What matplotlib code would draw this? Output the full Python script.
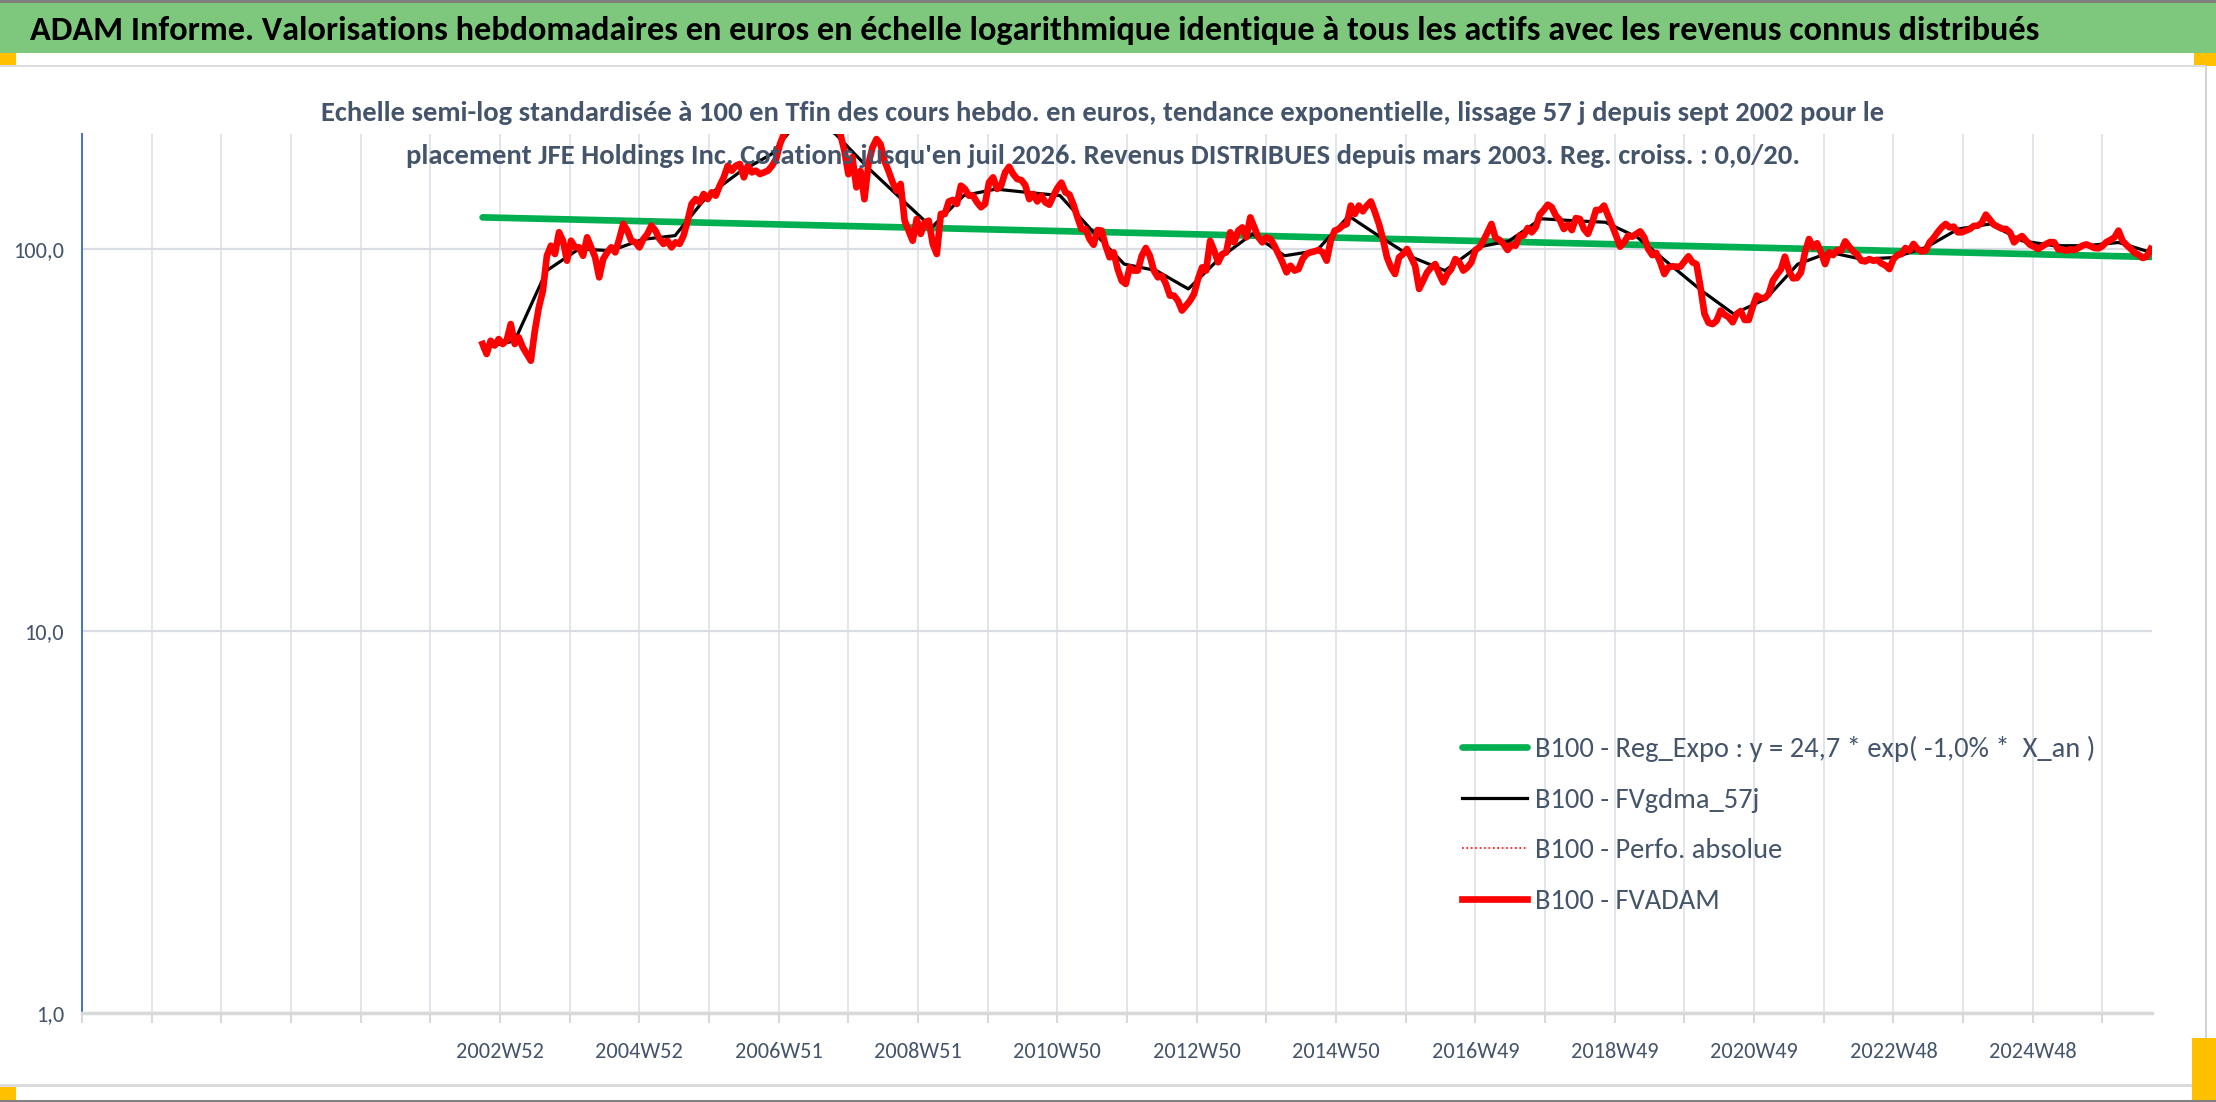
import numpy as np
import matplotlib
matplotlib.use("Agg")
import matplotlib.pyplot as plt
from matplotlib import font_manager
from matplotlib.patches import Rectangle
from matplotlib.ticker import NullLocator

# weekly categories, index 0 = first category of the axis
week_first = 299
week_last = 1544
axis_last = 1545

# B100 - FVADAM, one value every 3 weeks
fvadam = [
    56.4, 53.1, 57.5, 55.9, 58.1, 56.4, 57.7, 63.6, 56.4, 58.7,
    55.3, 53.1, 51.0, 61.1, 70.4, 77.8, 96.0, 102.0, 97.0, 110.6,
    105.1, 93.2, 105.1, 101.0, 101.0, 96.0, 107.3, 101.0, 95.1, 84.3,
    94.1, 98.0, 101.0, 98.0, 106.2, 116.3, 111.7, 105.1, 104.1, 101.0,
    106.2, 109.5, 115.1, 111.7, 106.2, 103.1, 105.1, 101.0, 104.1, 103.1,
    108.4, 118.6, 131.2, 135.1, 132.5, 139.3, 135.1, 140.7, 137.9, 146.5,
    154.0, 165.2, 160.3, 165.2, 166.9, 154.0, 165.2, 158.7, 160.3, 157.1,
    158.7, 160.3, 165.2, 172.0, 188.3, 200.0, 212.0, 222.0, 230.0, 238.0,
    242.0, 245.0, 240.0, 235.0, 238.0, 230.0, 225.0, 218.0, 210.0, 200.0,
    181.0, 157.0, 174.0, 145.0, 160.0, 135.0, 167.0, 184.5, 194.0, 188.0,
    170.0, 160.0, 149.5, 142.0,
    148.0, 118.6, 111.7, 105.1, 119.8, 109.5, 117.4, 118.6, 103.1, 97.0,
    123.5, 123.5, 133.2, 134.4, 131.2, 146.5, 143.6, 137.9, 137.9, 132.5,
    128.6, 131.2, 149.5, 154.0, 143.6, 146.5, 158.7, 164.2, 157.1, 152.5,
    151.5, 147.0, 135.1, 139.3, 133.2, 137.9, 132.5, 130.6, 137.9, 144.4,
    149.2, 140.7, 138.8, 130.6, 121.0, 112.8, 112.8, 106.2, 102.6, 112.1,
    111.7, 102.0, 95.1, 98.0, 88.6, 82.6, 81.0, 89.5, 87.8, 87.8,
    96.0, 100.6, 96.0, 87.8, 84.3, 85.1, 81.0, 75.5, 75.5, 73.2,
    69.0, 71.1, 73.2, 76.3, 83.5, 89.5, 87.8, 105.1, 99.0, 92.3,
    97.0, 98.0, 110.6, 104.1, 111.7, 113.9, 107.3, 121.0, 113.9, 107.3,
    104.1, 107.3, 106.2, 102.0, 97.0, 92.3, 86.9, 90.4, 87.8, 88.6,
    94.1, 97.0, 98.0, 98.6, 99.4,
    98.0, 93.2, 105.1, 111.7, 112.8, 115.1, 116.3, 129.9, 123.5, 129.9,
    125.5, 129.9, 133.2, 124.8, 116.3, 106.2, 95.1, 89.5, 86.0, 95.1,
    97.0, 100.0, 95.1, 90.4, 78.6, 82.6, 86.9, 89.5, 91.3, 86.0,
    81.8, 86.0, 88.6, 94.1, 92.3, 87.8, 89.5, 92.3, 99.4, 101.0,
    105.1, 110.6, 116.3, 106.9, 105.6, 103.1, 99.4, 102.6, 102.0, 108.4,
    108.4, 113.5, 110.6, 113.9, 123.0, 126.5, 130.6, 128.6, 122.3, 119.1,
    112.8, 115.8, 112.1, 120.5, 119.8, 112.8, 109.5, 116.7, 126.5, 126.5,
    129.9, 122.3, 115.1, 108.4, 101.4, 104.1, 108.4, 107.7, 109.5, 111.2,
    107.3, 100.0, 96.4, 97.6, 92.3, 86.0, 89.5, 90.1, 89.9, 89.9,
    92.8, 95.7, 92.3, 91.3, 79.4, 67.6, 64.1, 63.6, 64.9, 69.0,
    67.3, 66.3, 64.3, 67.6,
    68.8, 65.2, 65.2, 70.6, 75.5, 74.4, 74.4, 76.3, 82.6, 85.7,
    88.4, 95.5, 87.8, 83.8, 84.0, 86.9, 98.0, 106.2, 101.0, 103.5,
    98.0, 91.3, 98.0, 96.4, 99.4, 99.0, 104.7, 101.4, 98.6, 96.6,
    93.2, 92.8, 94.1, 93.2, 93.6, 91.7, 90.6, 88.6, 94.1, 96.4,
    97.0, 100.6, 99.0, 103.1, 100.0, 98.6, 99.0, 104.1, 106.9, 110.6,
    113.9, 116.3, 113.9, 114.4, 110.6, 110.6, 111.7, 112.8, 114.9, 115.1,
    117.2, 123.0, 119.4, 115.8, 114.4, 113.0, 112.8, 110.6, 104.1, 106.6,
    108.1, 105.1, 102.6, 101.4, 100.0, 101.6, 103.1, 104.3, 104.1, 99.8,
    99.8, 99.0, 99.8, 99.4, 100.6, 102.0, 102.8, 101.8, 100.6, 100.4,
    101.8, 104.3, 105.6, 107.3, 111.7, 105.1, 102.4, 100.2, 97.8, 96.6,
    94.7, 95.5, 100.0,
]

# B100 - FVgdma_57j, one value every ~24 weeks
fvgdma = [
    55.0, 57.5, 87.8, 100.0, 99.0, 106.0, 108.4, 137.5, 158.7, 177.0,
    225.0, 200.0, 163.6, 136.5, 113.9, 138.0, 143.5, 140.6, 138.0, 111.7,
    91.3, 87.8, 78.6, 95.0, 109.5, 96.0, 99.0, 122.0, 107.3, 95.0,
    87.8, 101.0, 105.0, 120.0, 118.6, 117.5, 107.3, 91.3, 77.8, 67.6,
    74.0, 91.3, 98.0, 94.0, 95.0, 101.0, 112.8, 116.3, 105.0, 102.0,
    102.0, 104.0, 98.0,
]

# B100 - Reg_Expo, start and end
reg_expo = [121.0, 95.3]

x_labels = ['2002W52', '2004W52', '2006W51', '2008W51', '2010W50', '2012W50',
            '2014W50', '2016W49', '2018W49', '2020W49', '2022W48', '2024W48']

title = ("ADAM Informe. Valorisations hebdomadaires en euros en échelle logarithmique "
         "identique à tous les actifs avec les revenus connus distribués")
sub1 = ("Echelle semi-log standardisée à 100 en Tfin des cours hebdo. en euros, tendance "
        "exponentielle, lissage 57 j depuis sept 2002 pour le")
sub2 = ("placement JFE Holdings Inc. Cotations jusqu'en juil 2026. Revenus DISTRIBUES "
        "depuis mars 2003. Reg. croiss. : 0,0/20.")
leg_labels = ['B100 - Reg_Expo : y = 24,7 * exp( -1,0% *  X_an )',
              'B100 - FVgdma_57j', 'B100 - Perfo. absolue', 'B100 - FVADAM']

# Calibri look-alike if there is one
installed = {f.name for f in font_manager.fontManager.ttflist}
for fam in ['Carlito', 'Calibri', 'Liberation Sans Narrow', 'Archivo Narrow', 'DejaVu Sans']:
    if fam in installed:
        break
plt.rcParams['font.family'] = [fam, 'DejaVu Sans']

W, H = 2216, 1102
fig = plt.figure(figsize=(W / 100, H / 100), dpi=100)

def box(x0, y0, x1, y1, color):
    # pixel box, y measured from the top
    fig.patches.append(Rectangle((x0 / W, 1 - y1 / H), (x1 - x0) / W, (y1 - y0) / H,
                                 transform=fig.transFigure, color=color, zorder=0, lw=0))

box(0, 0, W, 3, '#7f7f7f')
box(0, 3, W, 53, '#7ec87e')
box(0, 53, 16, 66, '#ffc000')
box(2194, 53, W, 66, '#ffc000')
box(0, 65, 2206, 67, '#dcdcdc')
box(2205, 66, 2207, 1086, '#d4d4d4')
box(0, 1084, 2206, 1087, '#dcdcdc')
box(0, 1087, 16, 1100, '#ffc000')
box(2192, 1038, W, 1100, '#ffc000')
box(0, 1100, W, H, '#7f7f7f')

ax = fig.add_axes([82 / W, 1 - 1013 / H, (2152 - 82) / W, (1013 - 134) / H])

x_red = np.linspace(week_first, week_last, len(fvadam))
x_blk = np.linspace(week_first, week_last, len(fvgdma))
x_reg = np.linspace(week_first, week_last, len(reg_expo))

l_reg, = ax.plot(x_reg, reg_expo, color='#00b050', lw=4.8, solid_capstyle='round', zorder=3)
l_blk, = ax.plot(x_blk, fvgdma, color='black', lw=2.3, zorder=4)
l_abs, = ax.plot(x_red, fvadam, color='red', lw=1.2, ls=':', zorder=4)
l_red, = ax.plot(x_red, fvadam, color='red', lw=4.8, zorder=5)

ax.set_yscale('log')
ax.set_ylim(1, 200)
ax.set_yticks([1, 10, 100])
ax.set_yticklabels(['1,0', '10,0', '100,0'])
ax.yaxis.set_minor_locator(NullLocator())
ax.set_xlim(0, axis_last)
ticks = np.arange(0, axis_last, 52)
ax.set_xticks(ticks)
lab = [''] * len(ticks)
for i in range(6, len(ticks), 2):
    lab[i] = x_labels[(i - 6) // 2]
ax.set_xticklabels(lab)

ax.grid(axis='y', color='#d9dce3', lw=1.6)
ax.grid(axis='x', color='#e1e5ec', lw=1.4)
ax.set_axisbelow(True)
for s in ['top', 'right']:
    ax.spines[s].set_visible(False)
ax.spines['left'].set_color('#4472c4')
ax.spines['left'].set_linewidth(1.4)
ax.spines['bottom'].set_color('#d9d9d9')
ax.spines['bottom'].set_linewidth(2.5)
ax.tick_params(axis='y', length=0, pad=13, labelsize=16, labelcolor='#44546a')
ax.tick_params(axis='x', length=7, width=1.5, color='#d9d9d9', pad=14,
               labelsize=16, labelcolor='#44546a')

fig.text(30 / W, 1 - 40 / H, title, fontsize=24.7, fontweight='bold', va='baseline', ha='left')
fig.text(1103 / W, 1 - 121 / H, sub1, fontsize=20.6, fontweight='bold', color='#44546a',
         ha='center', va='baseline')
fig.text(1103 / W, 1 - 164 / H, sub2, fontsize=20.6, fontweight='bold', color='#44546a',
         ha='center', va='baseline', zorder=10)

leg = ax.legend([l_reg, l_blk, l_abs, l_red], leg_labels, loc='upper left',
                bbox_to_anchor=(1462 / W, 1 - 736 / H), bbox_transform=fig.transFigure,
                frameon=False, fontsize=20.5, handlelength=2.3, handletextpad=0.25,
                labelspacing=0.9, borderpad=0, borderaxespad=0)
for t in leg.get_texts():
    t.set_color('#44546a')

fig.savefig('out.png', dpi=100)
